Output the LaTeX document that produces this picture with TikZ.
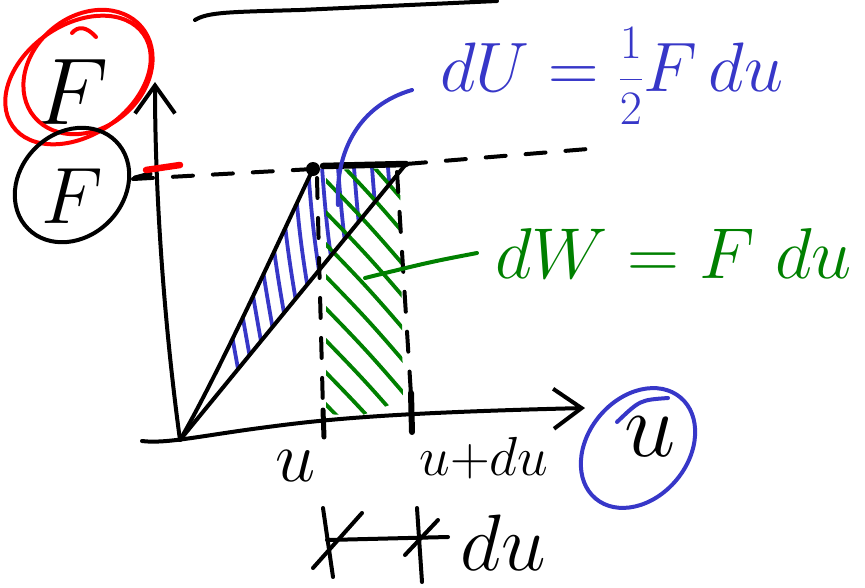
\RequirePackage{fix-cm}
\documentclass[tikz,border=0pt]{standalone}
\usetikzlibrary{arrows.meta}
\definecolor{hblue}{RGB}{55,55,200}
\definecolor{hgreen}{RGB}{0,128,0}
\definecolor{hred}{RGB}{255,0,0}
\tikzset{
  ink/.style={line width=4pt,line cap=round,line join=round},
  dashink/.style={ink,dash pattern=on 20pt off 20pt},
  bhatch/.style={hblue,line width=3.8pt,line cap=round},
  ghatch/.style={hgreen,line width=3.8pt,line cap=round},
  axisarrow/.style={-{Straight Barb[length=28pt,width=40pt]}},
  lab/.style={inner sep=0pt,outer sep=0pt},
}
\begin{document}
\begin{tikzpicture}[x=1pt,y=-1pt]
\useasboundingbox (0,0) rectangle (865,587);
% key points
\coordinate (O) at (180,440);
\coordinate (P) at (313,169);
\coordinate (Q) at (406,164);
\coordinate (Ytop) at (155,82);
\coordinate (Xbeg) at (142,441);
\coordinate (Xend) at (585,408);
\coordinate (DL) at (133,179);
\coordinate (DR) at (600,148);
\coordinate (BlueEnd) at (338,205);
\coordinate (GreenEnd) at (365,278);

% blue hatching (triangle dU)
\begin{scope}
  \clip (O) .. controls (215,380) and (270,260) .. (P) -- (Q) -- cycle;
  \foreach \x in {208,222,236,250,264,278,292,306,320,336,352,370,386}
    \draw[bhatch] (\x,140) .. controls (\x+8,250) .. (\x+45,450);
\end{scope}
% green hatching (strip dW)
\begin{scope}
  \clip (326,170) -- (400,168) -- (403,400) -- (360,416) -- (326,414) -- cycle;
  \foreach \c in {-272,-240,...,60}
    \draw[ghatch] (300,{1.1*300+\c}) .. controls (370,{1.085*370+\c}) .. (440,{1.1*440+\c});
\end{scope}

% top stroke
\draw[ink] (195,20) .. controls (208,12) and (230,12) .. (300,10) -- (497,1);

% axes
\draw[ink,axisarrow] (O) .. controls (165,330) and (155,200) .. (Ytop);
\draw[ink,axisarrow] (Xbeg) .. controls (165,444) and (200,436) .. (260,428)
      .. controls (320,420) and (380,413) .. (Xend);

% curves of the graph
\draw[ink] (O) .. controls (215,380) and (270,260) .. (P);
\draw[ink] (O) -- (Q);
\draw[line width=6.5pt,line cap=round] (323,166) -- (Q);
\fill (P) circle (7pt);

% dashed guide lines
\draw[dashink] (DL) -- (P);
\draw[dashink] (Q) -- (DR);
\draw[dashink] (317,178) -- (323,410);
\draw[dashink] (397,172) -- (411,395);
\draw[line width=5pt,line cap=round] (323,410) -- (324,437);
\draw[line width=6pt,line cap=round] (411,393) -- (412,432);
\draw[line width=5pt,line cap=round] (135,178) -- (150,174);
\draw[hred,line width=6.5pt,line cap=round] (146,170) -- (180,165);

% labels on the left
\node[lab,font=\fontsize{95}{95}\selectfont] (Ftop) at (72,92) {$F$};
\draw[hred,ink] (78,80) ellipse [x radius=80,y radius=55,rotate=35];
\draw[hred,ink] (88,72) ellipse [x radius=70,y radius=56,rotate=40];
\draw[hred,ink] (72,33) .. controls (78,26) and (86,26) .. (96,37);
\node[lab,font=\fontsize{80}{80}\selectfont] (Fbot) at (72,196) {$F$};
\draw[ink] (72,185) ellipse [x radius=62,y radius=52,rotate=45];

% axis labels
\node[lab,font=\fontsize{72}{72}\selectfont] (ulab) at (296,466) {$u$};
\node[lab,font=\fontsize{55}{55}\selectfont] (udulab) at (484,458) {$u{+}du$};
\node[lab,font=\fontsize{92}{92}\selectfont] (ucirc) at (650,437) {$u$};
\draw[hblue,ink] (638,448) ellipse [x radius=66,y radius=50,rotate=50];
\draw[hblue,ink] (617,422) .. controls (640,400) .. (668,398);

% du bracket
\coordinate (B1t) at (323,508);
\coordinate (B1b) at (333,577);
\coordinate (B2t) at (417,508);
\coordinate (B2b) at (422,582);
\coordinate (Hl) at (327,540);
\coordinate (Hr) at (448,537);
\draw[ink] (B1t) -- (B1b);
\draw[ink] (B2t) -- (B2b);
\draw[ink] (Hl) -- (Hr);
\draw[ink] (313,568) -- (362,513);
\draw[ink] (405,555) -- (438,520);
\node[lab,font=\fontsize{80}{80}\selectfont] (dulab) at (503,543) {$du$};

% equations with leaders
\node[lab,hblue,font=\fontsize{70}{70}\selectfont,anchor=west] (dU) at (440,76)
  {$dU=\mbox{\fontsize{48}{48}\selectfont$\displaystyle\frac{1}{2}$}F\,du$};
\draw[hblue,ink] (dU.west) ++(-28,14) coordinate (BlueStart)
  .. controls (360,105) and (335,150) .. (BlueEnd);
\node[lab,hgreen,font=\fontsize{72}{72}\selectfont,anchor=west] (dW) at (495,253)
  {$dW=F\;du$};
\draw[hgreen,ink] (dW.west) ++(-18,0) coordinate (GreenStart)
  .. controls (430,262) .. (GreenEnd);
\end{tikzpicture}
\end{document}
